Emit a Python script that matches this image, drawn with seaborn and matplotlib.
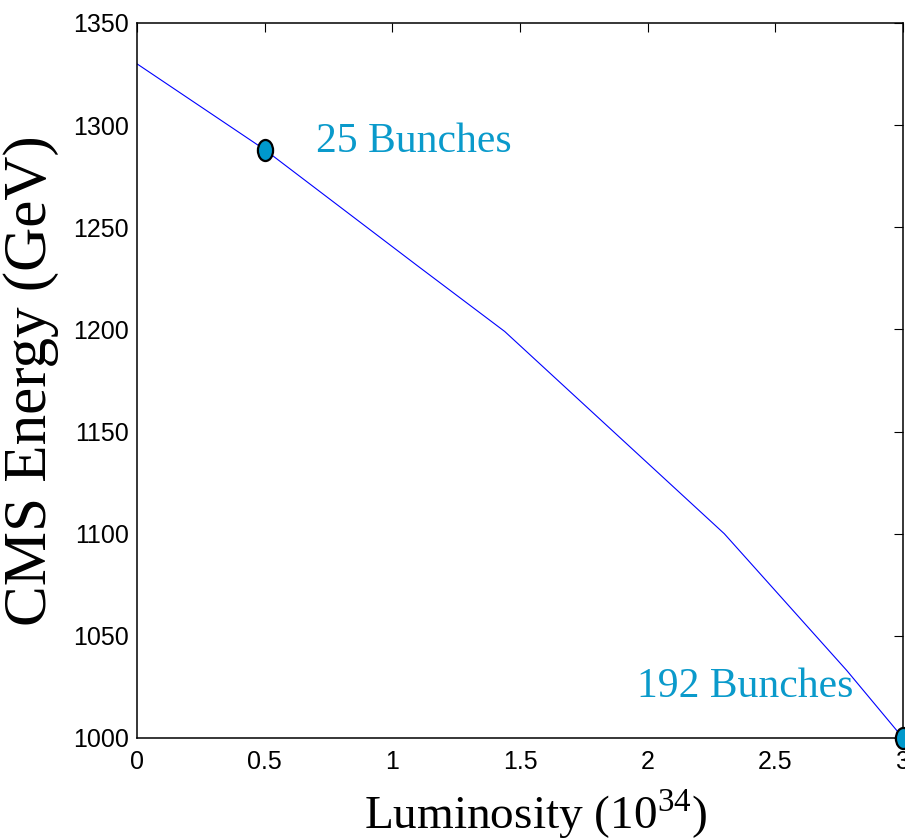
"""
CMS energy versus luminosity, with the 25 and 192 bunch operating points.
"""

import matplotlib
matplotlib.use("Agg")
import matplotlib.pyplot as plt
from matplotlib.markers import MarkerStyle
from matplotlib.transforms import Affine2D
import pandas as pd
import seaborn as sns

# Curve (luminosity in 1e34, energy in GeV)
LUMINOSITY = [0.0, 0.5, 1.1, 1.44, 2.3, 2.78, 3.0]
ENERGY = [1330, 1288, 1231, 1199, 1100, 1033, 1000]

# Operating points
POINT_LUMI = [0.5, 3.0]
POINT_ENERGY = [1288, 1000]
POINT_LABELS = ["25 Bunches", "192 Bunches"]
LABEL_LUMI = [0.70, 1.96]
LABEL_ENERGY = [1287, 1020]

X_TICKS = [0, 0.5, 1, 1.5, 2, 2.5, 3]
X_TICK_LABELS = ["0", "0.5", "1", "1.5", "2", "2.5", "3"]
Y_TICKS = [1000, 1050, 1100, 1150, 1200, 1250, 1300, 1350]

LINE_COLOR = "#0000FF"
POINT_COLOR = "#0099CC"
TEXT_COLOR = "#0A9ACB"


def main():
    sns.set_theme(style="white")
    plt.rcParams["font.family"] = ["Liberation Sans", "DejaVu Sans"]
    plt.rcParams["mathtext.fontset"] = "custom"
    plt.rcParams["mathtext.rm"] = "Liberation Serif"
    plt.rcParams["text.color"] = "black"
    plt.rcParams["axes.labelcolor"] = "black"

    curve = pd.DataFrame({"lumi": LUMINOSITY, "energy": ENERGY})
    points = pd.DataFrame({"lumi": POINT_LUMI, "energy": POINT_ENERGY})

    fig = plt.figure(figsize=(9.05, 8.39), dpi=100)
    ax = fig.add_axes([0.1514, 0.1204, 0.8464, 0.8522])

    sns.lineplot(data=curve, x="lumi", y="energy", ax=ax, color=LINE_COLOR,
                 linewidth=0.8, sort=False)

    # tall ellipse markers, as in the stretched original
    oval = MarkerStyle("o", transform=Affine2D().scale(0.72, 1.0))
    sns.scatterplot(data=points, x="lumi", y="energy", ax=ax, marker=oval,
                    s=230, color=POINT_COLOR, edgecolor="black", linewidth=1.6,
                    zorder=5, clip_on=False)

    for label, lx, ly in zip(POINT_LABELS, LABEL_LUMI, LABEL_ENERGY):
        ax.text(lx, ly, label, color=TEXT_COLOR, fontsize=30,
                family="Liberation Serif", ha="left", va="baseline")

    ax.set_xlim(0, 3)
    ax.set_ylim(1000, 1350)
    ax.set_xticks(X_TICKS)
    ax.set_xticklabels(X_TICK_LABELS)
    ax.set_yticks(Y_TICKS)
    ax.tick_params(direction="in", length=6.5, width=0.8, labelsize=18,
                   top=True, right=True, colors="black")
    ax.tick_params(axis="x", pad=9)
    ax.tick_params(axis="y", pad=6)

    for spine in ax.spines.values():
        spine.set_color("black")
        spine.set_linewidth(1.1)

    ax.set_xlabel(r"Luminosity (10$^{\mathregular{34}}$)", fontsize=34,
                  family="Liberation Serif", labelpad=9, color="black")
    ax.xaxis.label.set_x(0.52)
    ax.set_ylabel("CMS Energy (GeV)", fontsize=44,
                  family="Liberation Serif", labelpad=10, color="black")

    fig.savefig("out.png", dpi=100)
    plt.close(fig)


if __name__ == "__main__":
    main()
